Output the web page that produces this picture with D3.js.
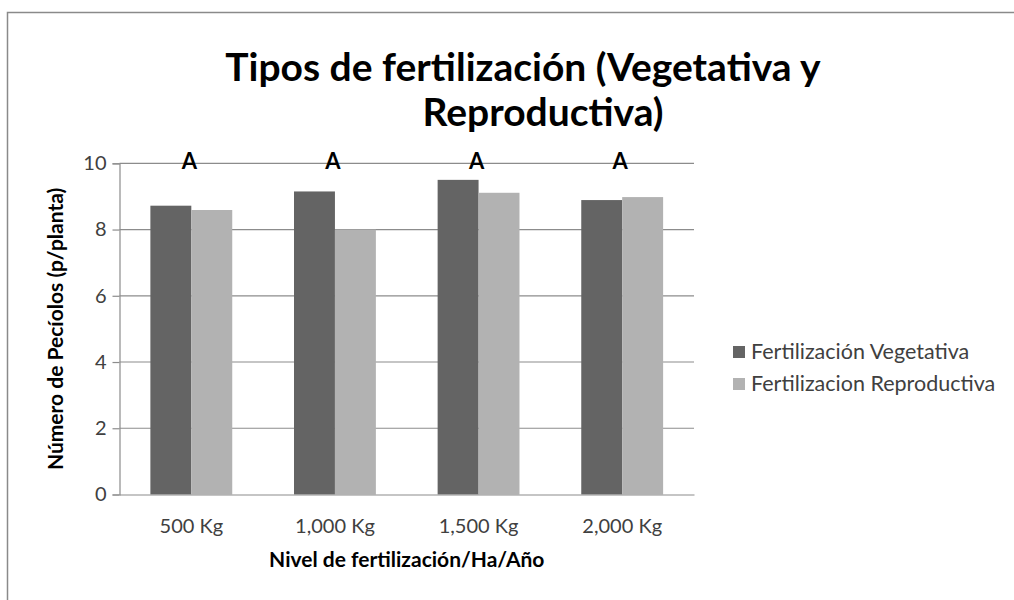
<!DOCTYPE html>
<html><head><meta charset="utf-8">
<script src="https://cdn.jsdelivr.net/npm/d3@7"></script>
<style>body{margin:0;background:#fff}svg{display:block}text{font-family:Lato,"Open Sans",sans-serif}</style>
</head><body><svg id="c" width="1014" height="600"></svg>
<script>
const categories = ["500 Kg", "1,000 Kg", "1,500 Kg", "2,000 Kg"];
const seriesNames = ["Fertilización Vegetativa", "Fertilizacion Reproductiva"];
const vegetativa = [8.72, 9.15, 9.5, 8.89];
const reproductiva = [8.59, 8.0, 9.11, 8.98];
const letters = ["A", "A", "A", "A"];
const yTicks = [0, 2, 4, 6, 8, 10];
const titleLines = ["Tipos de fertilización (Vegetativa y", "Reproductiva)"];
const xTitle = "Nivel de fertilización/Ha/Año";
const yTitle = "Número de Pecíolos (p/planta)";

const colors = ["#646464", "#b2b2b2"];
const svg = d3.select("#c");
svg.append("rect").attr("x", 7.5).attr("y", 12.5).attr("width", 1014).attr("height", 620)
  .attr("fill", "#fff").attr("stroke", "#8a8a8a").attr("stroke-width", 1.5);

const L = 119.5, R = 694, T = 163.3, B = 494.5;
const x = d3.scaleBand().domain(categories).range([L, R]).paddingInner(0.43).paddingOuter(0.215);
const xs = d3.scaleBand().domain([0, 1]).range([0, x.bandwidth()]);
const y = d3.scaleLinear().domain([0, 10]).range([B, T]);

// gridlines
svg.append("g").selectAll("line").data(yTicks.filter(d => d > 0)).join("line")
  .attr("x1", L).attr("x2", R).attr("y1", d => y(d)).attr("y2", d => y(d))
  .attr("stroke", "#8c8c8c").attr("stroke-width", 1.2);

// y axis
const ya = svg.append("g").attr("transform", `translate(${L},0)`)
  .call(d3.axisLeft(y).tickValues(yTicks).tickSize(7).tickPadding(6).tickFormat(d3.format("d")));
ya.select(".domain").attr("stroke", "#8c8c8c").attr("stroke-width", 1.2);
ya.selectAll(".tick line").attr("stroke", "#8c8c8c").attr("stroke-width", 1.2);
ya.selectAll("text").attr("font-size", 20).attr("fill", "#404040").attr("font-family", "Lato");

// bars
const series = [vegetativa, reproductiva];
series.forEach((vals, si) => {
  svg.append("g").selectAll("rect").data(vals).join("rect")
    .attr("x", (d, i) => x(categories[i]) + xs(si))
    .attr("width", xs.bandwidth())
    .attr("y", d => y(d)).attr("height", d => B - y(d))
    .attr("fill", colors[si]);
});

// x axis
const xa = svg.append("g").attr("transform", `translate(0,${B})`)
  .call(d3.axisBottom(x).tickSize(0).tickPadding(24));
xa.select(".domain").attr("stroke", "#8c8c8c").attr("stroke-width", 1.2);
xa.selectAll("text").attr("font-size", 20).attr("fill", "#404040").attr("font-family", "Lato");

// letters
svg.append("g").selectAll("text").data(letters).join("text")
  .attr("x", (d, i) => x(categories[i]) + x.bandwidth() / 2 - 2)
  .attr("y", y(10) + 6).attr("text-anchor", "middle")
  .attr("font-size", 22).attr("font-weight", "bold").attr("fill", "#000")
  .attr("font-family", "Liberation Sans, Arial, sans-serif")
  .text(d => d);

// title
svg.append("g").selectAll("text").data(titleLines).join("text")
  .attr("x", (d, i) => i === 0 ? 523 : 543).attr("y", (d, i) => 81 + i * 45)
  .attr("text-anchor", "middle").attr("font-size", 39).attr("font-weight", "bold").attr("fill", "#000")
  .text(d => d);

// axis titles
svg.append("text").attr("x", (L + R) / 2).attr("y", 567).attr("text-anchor", "middle")
  .attr("font-size", 21).attr("font-weight", "bold").attr("fill", "#000").text(xTitle);
svg.append("text").attr("transform", `translate(63,${(T + B) / 2}) rotate(-90)`).attr("text-anchor", "middle")
  .attr("font-size", 21).attr("font-weight", "bold").attr("fill", "#000").text(yTitle);

// legend
const lg = svg.append("g").selectAll("g").data(seriesNames).join("g")
  .attr("transform", (d, i) => `translate(733,${352 + i * 32})`);
lg.append("rect").attr("x", 0).attr("y", -6).attr("width", 12).attr("height", 12).attr("fill", (d, i) => colors[i]);
lg.append("text").attr("x", 18).attr("y", 7).attr("font-size", 21.5).attr("fill", "#404040").text(d => d);
</script></body></html>
